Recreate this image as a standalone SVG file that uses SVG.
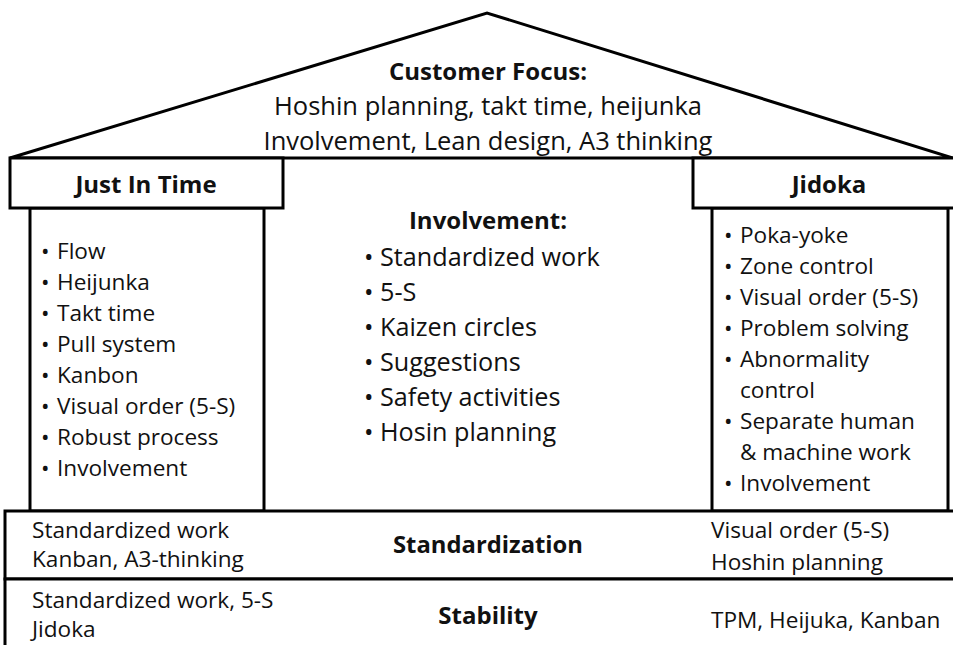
<svg xmlns="http://www.w3.org/2000/svg" width="953" height="645" viewBox="0 0 953 645">
<style>
.ln{fill:#fff;stroke:#000;stroke-width:3}
.t{font-family:"Open Sans","Liberation Sans",sans-serif;fill:#111}
.b{font-weight:bold}
.c{text-anchor:middle}
.s20{font-size:22.6px}
.s22{font-size:24px}
.s24{font-size:25.5px}
.sc{font-size:25.2px}
</style>
<rect width="953" height="645" fill="#fff"/>
<g id="roof">
<polygon class="ln" points="10,158 487,13 953,158"/>
<text class="t b c s22" x="488" y="80">Customer Focus:</text>
<text class="t c s24" x="488" y="115">Hoshin planning, takt time, heijunka</text>
<text class="t c s24" x="488" y="150">Involvement, Lean design, A3 thinking</text>
</g>
<g id="jit">
<rect class="ln" x="30" y="208" width="234" height="303"/>
<rect class="ln" x="10" y="158" width="273" height="50"/>
<text class="t b c s22" x="146" y="193">Just In Time</text>
<text class="t s20" y="259"><tspan x="41">•</tspan><tspan x="57">Flow</tspan></text>
<text class="t s20" y="290"><tspan x="41">•</tspan><tspan x="57">Heijunka</tspan></text>
<text class="t s20" y="321"><tspan x="41">•</tspan><tspan x="57">Takt time</tspan></text>
<text class="t s20" y="352"><tspan x="41">•</tspan><tspan x="57">Pull system</tspan></text>
<text class="t s20" y="383"><tspan x="41">•</tspan><tspan x="57">Kanbon</tspan></text>
<text class="t s20" y="414"><tspan x="41">•</tspan><tspan x="57">Visual order (5-S)</tspan></text>
<text class="t s20" y="445"><tspan x="41">•</tspan><tspan x="57">Robust process</tspan></text>
<text class="t s20" y="476"><tspan x="41">•</tspan><tspan x="57">Involvement</tspan></text>
</g>
<g id="involvement">
<text class="t b c s22" x="488" y="229">Involvement:</text>
<text class="t sc" y="266"><tspan x="364">•</tspan><tspan x="380">Standardized work</tspan></text>
<text class="t sc" y="301"><tspan x="364">•</tspan><tspan x="380">5-S</tspan></text>
<text class="t sc" y="336"><tspan x="364">•</tspan><tspan x="380">Kaizen circles</tspan></text>
<text class="t sc" y="371"><tspan x="364">•</tspan><tspan x="380">Suggestions</tspan></text>
<text class="t sc" y="406"><tspan x="364">•</tspan><tspan x="380">Safety activities</tspan></text>
<text class="t sc" y="441"><tspan x="364">•</tspan><tspan x="380">Hosin planning</tspan></text>
</g>
<g id="jidoka">
<rect class="ln" x="712" y="208" width="236" height="303"/>
<rect class="ln" x="693" y="158" width="265" height="50"/>
<text class="t b c s22" x="829" y="193">Jidoka</text>
<text class="t s20" y="243"><tspan x="724">•</tspan><tspan x="740">Poka-yoke</tspan></text>
<text class="t s20" y="274"><tspan x="724">•</tspan><tspan x="740">Zone control</tspan></text>
<text class="t s20" y="305"><tspan x="724">•</tspan><tspan x="740">Visual order (5-S)</tspan></text>
<text class="t s20" y="336"><tspan x="724">•</tspan><tspan x="740">Problem solving</tspan></text>
<text class="t s20" y="367"><tspan x="724">•</tspan><tspan x="740">Abnormality</tspan></text>
<text class="t s20" x="740" y="398">control</text>
<text class="t s20" y="429"><tspan x="724">•</tspan><tspan x="740">Separate human</tspan></text>
<text class="t s20" x="740" y="460">&amp; machine work</text>
<text class="t s20" y="491"><tspan x="724">•</tspan><tspan x="740">Involvement</tspan></text>
</g>
<g id="standardization">
<rect class="ln" x="5" y="511" width="955" height="68"/>
<text class="t s20" x="32" y="538">Standardized work</text>
<text class="t s20" x="32" y="567">Kanban, A3-thinking</text>
<text class="t b c s22" x="488" y="553" style="font-size:23.8px">Standardization</text>
<text class="t s20" x="711" y="538">Visual order (5-S)</text>
<text class="t s20" x="711" y="570">Hoshin planning</text>
</g>
<g id="stability">
<rect class="ln" x="5" y="579" width="955" height="75"/>
<text class="t s20" x="32" y="608">Standardized work, 5-S</text>
<text class="t s20" x="32" y="637">Jidoka</text>
<text class="t b c s22" x="488" y="624">Stability</text>
<text class="t s20" x="711" y="628">TPM, Heijuka, Kanban</text>
</g>
<g id="connectors"></g>
</svg>
